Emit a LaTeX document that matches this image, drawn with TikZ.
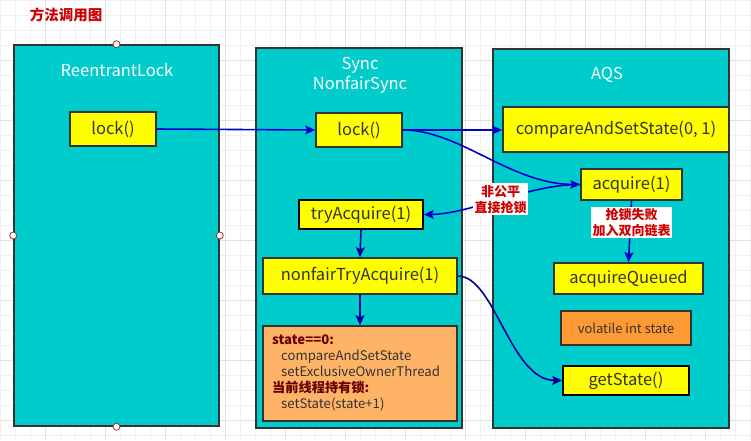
\documentclass[tikz,border=0pt]{standalone}
\usepackage{fontspec}
\setmainfont{Noto Sans CJK SC}
\usetikzlibrary{arrows.meta}
\definecolor{cyanbox}{HTML}{00CCCC}
\definecolor{boxline}{HTML}{333333}
\definecolor{ybox}{HTML}{FFFF00}
\definecolor{obox}{HTML}{FF9933}
\definecolor{lobox}{HTML}{FFB366}
\definecolor{eblue}{HTML}{0000CC}
\definecolor{enavy}{HTML}{000099}
\definecolor{tred}{HTML}{CC0000}
\definecolor{dred}{HTML}{660000}
\definecolor{txt}{HTML}{333333}
\definecolor{gminor}{HTML}{F0F0F0}
\definecolor{gmajor}{HTML}{E2E2E2}
\definecolor{hdl}{HTML}{993333}
\begin{document}
\begin{tikzpicture}[x=1pt,y=-1pt,
  container/.style={draw=boxline, fill=cyanbox, line width=1.6pt, inner sep=0pt},
  ctitle/.style={text=white, font=\fontsize{16.5}{19.5}\selectfont, align=center, inner sep=0pt},
  method/.style={draw=boxline, fill=ybox, line width=1.6pt, inner sep=0pt, text=txt, font=\fontsize{16.5}{19.5}\selectfont},
  field/.style={method, fill=obox, font=\fontsize{13}{16}\selectfont},
  lbl/.style={fill=white, text=tred, font=\bfseries\fontsize{13}{16}\selectfont, align=center, inner sep=1.5pt},
  conn/.style={line width=1.6pt, draw=#1, -{Stealth[length=10pt,width=9pt,inset=2pt,fill=#1]}},
  handle/.style={circle, draw=hdl, fill=white, line width=0.8pt, minimum size=7pt, inner sep=0pt}
]
% background and grid
\fill[white] (0,0) rectangle (751,440);
\useasboundingbox (0,0) rectangle (751,440);
\foreach \gx in {0,15,...,750} {\draw[gminor, line width=0.8pt] (\gx,0) -- (\gx,440);}
\foreach \gy in {0,15,...,440} {\draw[gminor, line width=0.8pt] (0,\gy) -- (751,\gy);}
\foreach \gx in {45,105,...,750} {\draw[gmajor, line width=0.8pt] (\gx,0) -- (\gx,440);}
\foreach \gy in {60,120,...,440} {\draw[gmajor, line width=0.8pt] (0,\gy) -- (751,\gy);}

% title
\node[text=tred, font=\bfseries\fontsize{14.5}{17}\selectfont, inner sep=0pt] (ttl) at (66,15) {方法调用图};

% containers
\node[container, minimum width=205pt, minimum height=381pt] (rl) at (116.5,235.5) {};
\node[container, minimum width=206pt, minimum height=380pt] (sync) at (359,238) {};
\node[container, minimum width=236pt, minimum height=379pt] (aqs) at (611,238.5) {};

\node[ctitle] (rlt) at (117,70) {ReentrantLock};
\node[ctitle] (synct) at (360,75.5) {Sync\\NonfairSync};
\node[ctitle] (aqst) at (607,75) {AQS};

% methods
\node[method, minimum width=86pt, minimum height=34pt] (lock1) at (113,129) {lock()};
\node[method, minimum width=86pt, minimum height=34pt] (lock2) at (359,130) {lock()};
\node[method, minimum width=226pt, minimum height=45pt] (cas) at (616,129.5) {compareAndSetState(0, 1)};
\node[method, minimum width=101pt, minimum height=31pt] (acq) at (631.5,184.5) {acquire(1)};
\node[method, minimum width=124pt, minimum height=29pt, draw=black] (tryacq) at (361,214.5) {tryAcquire(1)};
\node[method, minimum width=194pt, minimum height=36pt] (nfta) at (360,276) {nonfairTryAcquire(1)};
\node[method, minimum width=149pt, minimum height=31pt] (acqq) at (628.5,278.5) {acquireQueued};
\node[field, minimum width=130pt, minimum height=34pt] (vol) at (626,328) {volatile int state};
\node[method, minimum width=126pt, minimum height=29pt, draw=black] (gets) at (626,380.5) {getState()};
\node[method, fill=lobox, minimum width=194pt, minimum height=95pt] (stbox) at (360,373.5) {};
\node[anchor=north west, align=left, inner sep=0pt, text=txt, font=\fontsize{13.2}{16}\selectfont] (sttxt) at (272,335)
  {\textcolor{dred}{\bfseries state==0:}\\
   \hspace*{9pt}compareAndSetState\\
   \hspace*{9pt}setExclusiveOwnerThread\\
   \textcolor{dred}{\bfseries 当前线程持有锁:}\\
   \hspace*{9pt}setState(state+1)};

% handles
\node[handle] (h1) at (rl.north) {};
\node[handle] (h2) at (rl.west) {};
\node[handle] (h3) at (rl.east) {};
\node[handle] (h4) at (rl.south) {};

% connectors
\draw[conn=eblue] (lock1.east) -- (lock2.west);
\draw[conn=eblue] (lock2.east) -- (lock2.east -| cas.west);
\draw[conn=eblue] (lock2.east) .. controls (460,130) and (510,184) .. (acq.west);
\draw[conn=eblue] (acq.west) .. controls (530,184) and (470,214) .. (tryacq.east)
  node[pos=0.5, lbl] (l1) {非公平\\直接抢锁};
\draw[conn=eblue] (acq.south) -- (acqq.north);
\node[lbl] (l2) at (631.5,222.5) {抢锁失败\\加入双向链表};
\draw[conn=enavy] (tryacq.south) -- (nfta.north);
\draw[conn=enavy] (nfta.south) -- (stbox.north);
\draw[conn=enavy] (nfta.east) .. controls (495,276) and (510,380) .. (gets.west);
\end{tikzpicture}
\end{document}
